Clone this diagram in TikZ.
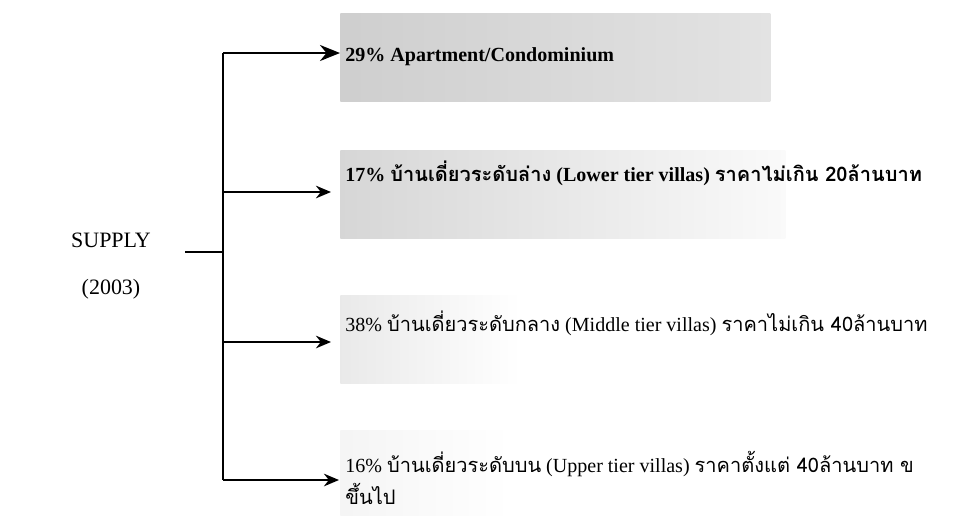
\documentclass[tikz,border=0pt]{standalone}
\usepackage{fontspec}
\setmainfont{Liberation Serif}
\newfontfamily\thaifont[Script=Thai]{Loma}
\newcommand{\thaitxt}[1]{{\thaifont #1}}
\usetikzlibrary{arrows.meta,positioning}
\tikzset{
    supply diagram/.style = {x=0.02cm, y=-0.02cm,
                             >={Stealth[length=4mm, width=3.2mm]}},
    line/.style           = {line width=1.6pt},
    small tip/.style      = {-{Stealth[length=3mm, width=2.5mm]}},
    shade box/.style      = {anchor=north west, inner sep=0pt,
                             minimum height=1.76cm},
    item/.style           = {anchor=west, inner sep=0pt, align=left,
                             font=\fontsize{11.4}{18}\selectfont},
    title/.style          = {align=center, inner sep=0pt,
                             font=\fontsize{12.5}{27}\selectfont}
}

\begin{document}
\begin{tikzpicture}[supply diagram]
\useasboundingbox (0,0) rectangle (977,515);

% ================= Shaded backgrounds =================
\node[shade box, minimum width=8.6cm, left color=gray!38, right color=gray!22]
    (box1) at (340,13) {};
\node[shade box, minimum width=8.9cm, left color=gray!32, right color=gray!4]
    (box2) at (340,150) {};
\node[shade box, minimum width=3.6cm, left color=gray!17, right color=white]
    (box3) at (340,295) {};
\node[shade box, minimum width=3.4cm, left color=gray!8, right color=white]
    (box4) at (340,430) {};

% ================= Source =================
\node[title] (supply) at (111,266) {SUPPLY\\(2003)};
\coordinate (stub) at (185,252);
\coordinate (jmid) at (223,252);

% ================= Trunk and junctions =================
\coordinate (jtop) at (223,53);
\coordinate (j2)   at (223,192);
\coordinate (j3)   at (223,342);
\coordinate (jbot) at (223,480);

\coordinate (a1) at (box1.west |- jtop);
\coordinate (a2) at (331,192);
\coordinate (a3) at (331,342);
\coordinate (a4) at (339,480);

\draw[line] (stub) -- (jmid);
\draw[line] (jtop) -- (jbot);
\draw[line, ->] (jtop) -- (a1);
\draw[line, small tip] (j2) -- (a2);
\draw[line, small tip] (j3) -- (a3);
\draw[line, small tip] (jbot) -- (a4);

% ================= Labels =================
\node[item] (t1) at (345,57)
    {\bfseries 29\% Apartment/Condominium};
\node[item] (t2) at (345,173)
    {\bfseries 17\% \thaitxt{บ้านเดี่ยวระดับล่าง} (Lower tier villas)
     \thaitxt{ราคาไม่เกิน 20ล้านบาท}};
\node[item] (t3) at (345,323)
    {38\% \thaitxt{บ้านเดี่ยวระดับกลาง} (Middle tier villas)
     \thaitxt{ราคาไม่เกิน 40ล้านบาท}};
\node[item] (t4) at (345,478)
    {16\% \thaitxt{บ้านเดี่ยวระดับบน} (Upper tier villas)
     \thaitxt{ราคาตั้งแต่ 40ล้านบาท ข}\\\thaitxt{ขึ้นไป}};

\end{tikzpicture}
\end{document}
